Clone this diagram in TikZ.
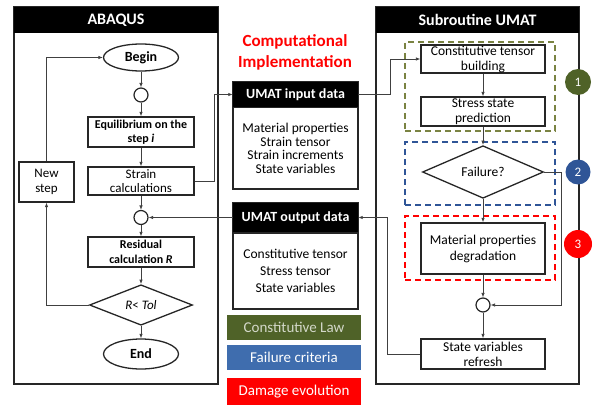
\documentclass[tikz,border=0pt]{standalone}
\usepackage{fontspec}
\setmainfont{Carlito}
\usepackage{xcolor}
\usetikzlibrary{shapes}
\usetikzlibrary{positioning, calc, arrows.meta}

\definecolor{lawgreen}{HTML}{4F6228}
\definecolor{zonegreen}{HTML}{7A8342}
\definecolor{failblue}{HTML}{3F6DAE}
\definecolor{zoneblue}{HTML}{2F5597}
\definecolor{dmgred}{HTML}{FF0000}
\definecolor{wire}{HTML}{404040}

\begin{document}
\begin{tikzpicture}[x=1pt, y=-1pt, >={Latex[length=4.5pt,width=3.5pt]},
    panel/.style = {draw=black!85, line width=1.6pt, inner sep=0pt},
    header/.style = {fill=black, text=white, inner sep=0pt, font=\fontsize{16}{18}\selectfont\bfseries},
    box/.style = {draw=black!85, line width=1.3pt, fill=white, inner sep=0pt, align=center, font=\fontsize{13}{14.5}\selectfont},
    oval/.style = {box, ellipse, font=\fontsize{14}{15}\selectfont\bfseries},
    test/.style = {box, diamond, font=\fontsize{13}{14}\selectfont},
    joint/.style = {draw=black!85, line width=1.2pt, fill=white, circle, inner sep=0pt, minimum size=14pt},
    zone/.style = {draw=#1, line width=1.6pt, dash pattern=on 6pt off 4pt, inner sep=0pt},
    badge/.style = {circle, fill=#1, text=white, inner sep=0pt, font=\fontsize{13}{14}\selectfont},
    legend/.style = {fill=#1, inner sep=0pt, minimum width=134pt, minimum height=25pt, font=\fontsize{15}{16}\selectfont},
    link/.style = {draw=wire, line width=0.8pt, ->}]
    \useasboundingbox (0,0) rectangle (593,406);

    % Panels
    \node[panel, minimum width=204pt, minimum height=377pt] (abaqus) at (116,195.5) {};
    \node[header, minimum width=204pt, minimum height=26pt] (abaqushead) at (116,20) {ABAQUS};
    \node[panel, minimum width=203pt, minimum height=377pt] (umat) at (477.5,195.5) {};
    \node[header, minimum width=203pt, minimum height=26pt] (umathead) at (477.5,20) {Subroutine UMAT};

    % ABAQUS nodes
    \node[oval, minimum width=75pt, minimum height=27pt] (begin) at (141,57.5) {Begin};
    \node[joint] (jointA) at (141,95) {};
    \node[box, minimum width=106pt, minimum height=30pt, font=\fontsize{12}{14.5}\selectfont\bfseries] (equil) at (141,132) {Equilibrium on the\\step \textit{i}};
    \node[box, minimum width=106pt, minimum height=28pt] (strain) at (141,181) {Strain\\calculations};
    \node[box, minimum width=55pt, minimum height=40pt] (newstep) at (46.5,182) {New\\step};
    \node[joint] (jointB) at (141,217.5) {};
    \node[box, minimum width=106pt, minimum height=30pt, font=\fontsize{12}{14.5}\selectfont\bfseries] (resid) at (141,252) {Residual\\calculation \textit{R}};
    \node[test, minimum width=103pt, minimum height=30pt] (tol) at (141,305) {\textit{R}< \textit{Tol}};
    \node[oval, minimum width=75pt, minimum height=30pt] (end) at (141,354) {End};

    % Middle column
    \node[text=dmgred, align=center, font=\fontsize{17}{21}\selectfont\bfseries] (title) at (295,52) {Computational\\Implementation};
    \node[header, minimum width=125pt, minimum height=25pt, font=\fontsize{14}{15}\selectfont\bfseries] (inhead) at (295.5,94.5) {UMAT input data};
    \node[box, minimum width=125pt, minimum height=81pt, below=0pt of inhead, font=\fontsize{13.5}{13.5}\selectfont] (inbody) {Material properties\\Strain tensor\\Strain increments\\State variables};
    \node[header, minimum width=125pt, minimum height=29pt, font=\fontsize{14}{15}\selectfont\bfseries] (outhead) at (295.5,217.5) {UMAT output data};
    \node[box, minimum width=125pt, minimum height=76pt, below=0pt of outhead, font=\fontsize{13.5}{17}\selectfont] (outbody) {Constitutive tensor\\Stress tensor\\State variables};
    \draw[black!85, line width=1.3pt] (inhead.north west) rectangle (inbody.south east);
    \draw[black!85, line width=1.3pt] (outhead.north west) rectangle (outbody.south east);

    % Legend
    \node[legend=lawgreen, text=lawgreen!25] (lawkey) at (294,327.5) {Constitutive Law};
    \node[legend=failblue, text=white] (failkey) at (294,357.5) {Failure criteria};
    \node[legend=dmgred, text=white, minimum height=27pt] (dmgkey) at (294,391.5) {Damage evolution};

    % Zones of the subroutine
    \node[zone=zonegreen, minimum width=150pt, minimum height=89pt] (zoneA) at (480,86.5) {};
    \node[zone=zoneblue, minimum width=150pt, minimum height=63pt] (zoneB) at (480,173.5) {};
    \node[zone=dmgred, minimum width=150pt, minimum height=64pt] (zoneC) at (480,248) {};

    % UMAT nodes
    \node[box, minimum width=124pt, minimum height=28pt, font=\fontsize{13.5}{15}\selectfont] (const) at (483,59) {Constitutive tensor\\building};
    \node[box, minimum width=124pt, minimum height=29pt, font=\fontsize{13.5}{15}\selectfont] (stress) at (483,111.5) {Stress state\\prediction};
    \node[test, minimum width=121pt, minimum height=35pt, font=\fontsize{13.5}{15}\selectfont] (fail) at (483,172) {Failure?};
    \node[box, minimum width=124pt, minimum height=51pt, font=\fontsize{13.5}{16}\selectfont] (degrad) at (483,248.5) {Material properties\\degradation};
    \node[joint] (jointC) at (483,305) {};
    \node[box, minimum width=124pt, minimum height=30pt, font=\fontsize{13.5}{15}\selectfont] (refresh) at (483,354) {State variables\\refresh};

    % Badges
    \node[badge=lawgreen, minimum size=26pt] (badgeA) at (578,82) {1};
    \node[badge=zoneblue, minimum size=25pt] (badgeB) at (578,172) {2};
    \node[badge=dmgred, minimum size=28pt] (badgeC) at (578,244) {3};

    % Lines in ABAQUS
    \draw[link] (begin) -- (jointA);
    \draw[link] (jointA) -- (equil);
    \draw[link] (equil) -- (strain);
    \draw[link] (strain) -- (jointB);
    \draw[link] (jointB) -- (resid);
    \draw[link] (resid) -- (tol);
    \draw[link] (tol) -- (end);
    \draw[link] (tol.west) -| (newstep.south);
    \draw[link] (newstep.north) |- (begin.west);

    % Lines between the programs
    \draw[link] (strain.east) -- ++(20,0) |- (inhead.west);
    \draw[link] (inhead.east) -- ++(32,0) |- (const.west);
    \draw[link] (refresh.west) -- ++(-33,0) |- (outhead.east);
    \draw[link] (outhead.west) -- (jointB.east);

    % Lines in UMAT
    \draw[link] (const) -- (stress);
    \draw[link] (stress) -- (fail);
    \draw[link] (fail) -- (degrad);
    \draw[link] (degrad) -- (jointC);
    \draw[link] (jointC) -- (refresh);
    \draw[link] (fail.east) -- ++(17,0) |- (jointC.east);
\end{tikzpicture}
\end{document}
